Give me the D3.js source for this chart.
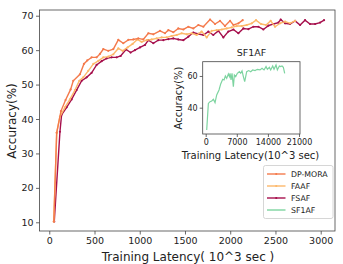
<!DOCTYPE html>
<html>
<head>
<meta charset="utf-8">
<script src="https://cdn.jsdelivr.net/npm/d3@7"></script>
<style>
  body { margin: 0; background: #fff; }
  text { font-family: "DejaVu Sans", sans-serif; fill: #222; }
</style>
</head>
<body>
<svg id="chart" width="343" height="264"></svg>
<script>
// data: [latency (10^3 sec), accuracy %]
var dpMora = [[50,10.2],[82,36],[129,42.3],[180,45.5],[236,48.6],[265,51.1],[339,53],[383,56],[420,57],
  [468,57.9],[523,57.9],[560,58.9],[597,60.3],[652,59.8],[708,60.3],[763,63],[818,62],[874,63],[929,63.1],
  [984,63.4],[1039,63.1],[1095,64.9],[1150,64.6],[1224,65.6],[1279,64.9],[1316,65.8],[1371,65.2],[1426,66.3],
  [1482,66],[1537,66.8],[1592,66.3],[1648,67.3],[1703,66.8],[1777,68.9],[1832,67.6],[1887,68.5],[1942,67],
  [1998,68.5],[2035,67.3],[2090,67.8],[2138,68.7]];
var faaf = [[50,10.2],[82,36],[118,40.7],[173,43.4],[228,45.7],[284,48.4],[332,51.1],[376,52.1],[431,54],
  [487,56],[542,56.9],[597,57.9],[652,58.1],[708,58.8],[763,60.5],[811,59.8],[866,60.8],[921,61.8],[973,63.1],
  [1021,62.4],[1076,62.9],[1131,63.1],[1187,63.4],[1242,63.7],[1297,63.7],[1353,64.1],[1408,64.4],[1463,64.9],
  [1519,64.6],[1574,64.9],[1629,64.4],[1684,65.4],[1740,63.7],[1795,65.6],[1850,65.8],[1906,66],[1961,66.3],
  [2016,66.6],[2072,67],[2127,67],[2182,67.3],[2238,67.8],[2285,68.7],[2341,67.6],[2396,67.3],[2447,68.5],
  [2495,66.8],[2551,67.8],[2606,68.3],[2661,67.8],[2717,68.5]];
var fsaf = [[55,10.2],[118,36.3],[136,41.2],[192,43.4],[247,45.7],[302,48.4],[358,51.1],[413,52.1],[468,53.4],
  [523,55.7],[579,56.8],[634,57.6],[689,57.9],[745,57.9],[789,58.3],[848,60.2],[899,59.3],[947,60],[1003,60.8],
  [1058,61.5],[1095,62.9],[1150,62],[1205,62.9],[1261,62.9],[1316,63.2],[1371,63.4],[1426,63.1],[1482,62.9],
  [1537,63.9],[1592,65.1],[1648,64.7],[1703,64.4],[1758,65.4],[1813,64.4],[1869,65.6],[1924,63.7],[1979,65.4],
  [2035,66],[2090,64.9],[2145,66.3],[2201,66.1],[2256,66.8],[2311,66.8],[2366,66],[2422,67.1],[2477,67.6],
  [2532,68],[2558,68.9],[2606,67.8],[2661,67.6],[2717,68.5],[2772,67.3],[2827,68.7],[2882,67.6],[2938,67.6],
  [2993,68],[3037,68.7]];
var sf1af = [[225,25.9],[600,42.7],[975,43.8],[1350,44.2],[1725,45.3],[2100,43.2],[2475,48],[3000,51.2],
  [3375,55],[3825,57.9],[4125,57.5],[4425,60],[4725,58.5],[5100,61.3],[5325,59.6],[5475,61.7],[5700,57.5],
  [5925,61.7],[6225,53.3],[6450,60.6],[6750,59.6],[7125,61.7],[7575,62.7],[7875,61.7],[8175,63.2],[8475,59.6],
  [8775,56.4],[9225,62.7],[9675,63.4],[10125,62.7],[10575,63.8],[11100,63.4],[11625,64.2],[12225,63.8],
  [12675,64.8],[13125,63.8],[13575,65.9],[13875,64.2],[14325,65.5],[14625,63.8],[15075,66.3],[15375,64.2],
  [15825,66.9],[16125,63.8],[16575,66.3],[16875,65.9],[17175,66.3],[17475,65.5],[17775,61.7]];

var xTicks = [0, 500, 1000, 1500, 2000, 2500, 3000];
var yTicks = [10, 20, 30, 40, 50, 60, 70];
var insetXTicks = [0, 7000, 14000, 21000];
var insetYTicks = [40, 60];

var series = [
  {name: "DP-MORA", data: dpMora, color: "#f47a4c", marker: true},
  {name: "FAAF", data: faaf, color: "#fdb86a", marker: true},
  {name: "FSAF", data: fsaf, color: "#a60f4c", marker: true},
  {name: "SF1AF", data: sf1af, color: "#7dd4a0", marker: false}
];

var svg = d3.select("#chart");
var fmt = d3.format("d");

// main plot
var box = {left: 39.5, right: 335, top: 10, bottom: 231};
var x = d3.scaleLinear().domain([-108, 3158]).range([box.left, box.right]);
var y = d3.scaleLinear().domain([7.47, 71.66]).range([box.bottom, box.top]);

var line = d3.line().x(function(d){ return x(d[0]); }).y(function(d){ return y(d[1]); });

series.slice(0, 3).reverse().forEach(function(s){
  svg.append("path")
    .attr("d", line(s.data))
    .attr("fill", "none")
    .attr("stroke", s.color)
    .attr("stroke-width", 1.4);
  svg.selectAll(null)
    .data(s.data)
    .enter()
    .append("circle")
    .attr("cx", function(d){ return x(d[0]); })
    .attr("cy", function(d){ return y(d[1]); })
    .attr("r", 1.1)
    .attr("fill", s.color);
});

svg.append("rect")
  .attr("x", box.left).attr("y", box.top)
  .attr("width", box.right - box.left).attr("height", box.bottom - box.top)
  .attr("fill", "none").attr("stroke", "#444").attr("stroke-width", 0.8);

var xAxis = svg.append("g")
  .attr("transform", `translate(0,${box.bottom})`)
  .call(d3.axisBottom(x).tickValues(xTicks).tickFormat(fmt).tickSize(3.5).tickPadding(2.5));
var yAxis = svg.append("g")
  .attr("transform", `translate(${box.left},0)`)
  .call(d3.axisLeft(y).tickValues(yTicks).tickFormat(fmt).tickSize(3.5).tickPadding(2.5));
[xAxis, yAxis].forEach(function(a){
  a.select(".domain").remove();
  a.selectAll("line").attr("stroke", "#444").attr("stroke-width", 0.8);
  a.selectAll("text").style("font-size", "9.5px").attr("fill", "#222");
});

svg.append("text")
  .attr("x", 188).attr("y", 261)
  .attr("text-anchor", "middle")
  .style("font-size", "12px")
  .text("Training Latency( 10^3 sec )");
svg.append("text")
  .attr("transform", "translate(15.5,121) rotate(-90)")
  .attr("text-anchor", "middle")
  .style("font-size", "12px")
  .text("Accuracy(%)");

// inset
var ibox = {left: 202.7, right: 300, top: 61.7, bottom: 134};
var ix = d3.scaleLinear().domain([-675, 21220]).range([ibox.left, ibox.right]);
var iy = d3.scaleLinear().domain([23.4, 69.0]).range([ibox.bottom, ibox.top]);

svg.append("rect")
  .attr("x", ibox.left).attr("y", ibox.top)
  .attr("width", ibox.right - ibox.left).attr("height", ibox.bottom - ibox.top)
  .attr("fill", "#fff").attr("stroke", "#444").attr("stroke-width", 0.8);

svg.append("path")
  .attr("d", d3.line().x(function(d){ return ix(d[0]); }).y(function(d){ return iy(d[1]); })(sf1af))
  .attr("fill", "none")
  .attr("stroke", series[3].color)
  .attr("stroke-width", 1.2);

var ixAxis = svg.append("g")
  .attr("transform", `translate(0,${ibox.bottom})`)
  .call(d3.axisBottom(ix).tickValues(insetXTicks).tickFormat(fmt).tickSize(3).tickPadding(2));
var iyAxis = svg.append("g")
  .attr("transform", `translate(${ibox.left},0)`)
  .call(d3.axisLeft(iy).tickValues(insetYTicks).tickFormat(fmt).tickSize(3).tickPadding(2));
[ixAxis, iyAxis].forEach(function(a){
  a.select(".domain").remove();
  a.selectAll("line").attr("stroke", "#444").attr("stroke-width", 0.8);
  a.selectAll("text").style("font-size", "8px").attr("fill", "#222");
});

svg.append("text")
  .attr("x", 251.5).attr("y", 56)
  .attr("text-anchor", "middle")
  .style("font-size", "9.5px")
  .text("SF1AF");
svg.append("text")
  .attr("x", 250.5).attr("y", 159)
  .attr("text-anchor", "middle")
  .style("font-size", "10px")
  .text("Training Latency(10^3 sec)");
svg.append("text")
  .attr("transform", "translate(181.5,98) rotate(-90)")
  .attr("text-anchor", "middle")
  .style("font-size", "10px")
  .text("Accuracy(%)");

// legend
var legend = svg.append("g").attr("transform", "translate(263.5,165.5)");
legend.append("rect")
  .attr("width", 69.5).attr("height", 53)
  .attr("rx", 2)
  .attr("fill", "#fff").attr("stroke", "#ccc").attr("stroke-width", 0.8);
series.forEach(function(s, i){
  var g = legend.append("g").attr("transform", `translate(0,${8.5 + i * 12})`);
  g.append("line")
    .attr("x1", 3.5).attr("x2", 22)
    .attr("stroke", s.color).attr("stroke-width", 1.4);
  if (s.marker) {
    g.append("circle").attr("cx", 12.75).attr("r", 1.1).attr("fill", s.color);
  }
  g.append("text")
    .attr("x", 27.5).attr("y", 3)
    .style("font-size", "7.8px")
    .text(s.name);
});
</script>
</body>
</html>
